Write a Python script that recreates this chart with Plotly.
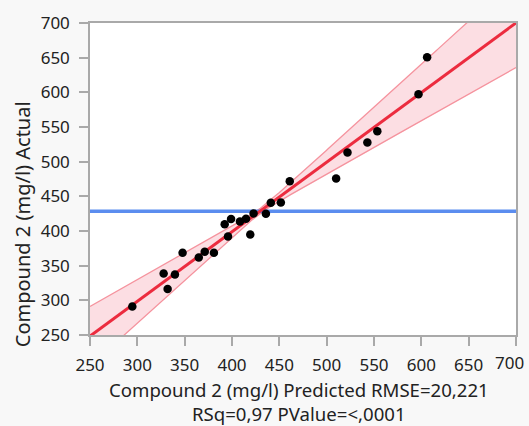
import numpy as np
import plotly.graph_objects as go

# Predicted vs. actual values of Compound 2 (mg/l)
predicted = [294.7, 327.8, 332.0, 339.7, 347.8, 364.9, 371.2, 380.9, 392.3, 395.8,
             399.0, 408.4, 414.8, 419.3, 422.8, 435.8, 441.0, 451.6, 461.0, 510.0,
             522.0, 543.0, 553.5, 597.0, 606.1]
actual = [291.1, 338.7, 316.3, 337.3, 368.7, 361.7, 370.1, 368.7, 409.8, 392.0,
          417.2, 413.6, 417.8, 394.8, 425.2, 424.8, 440.7, 441.1, 471.9, 475.7,
          513.1, 527.6, 544.0, 597.3, 650.5]

x_range = [250, 700]
y_range = [250, 700]
tick_values = list(range(250, 701, 50))
tick_labels = [str(v) for v in tick_values]

x_title = "Compound 2 (mg/l) Predicted RMSE=20,221"
x_subtitle = "RSq=0,97 PValue=<,0001"
y_title = "Compound 2 (mg/l) Actual"

# Confidence curve shape around the fitted line
band_min = 3.8
band_slope = 0.238

pred = np.array(predicted)
act = np.array(actual)
slope, intercept = np.polyfit(pred, act, 1)
mean_actual = act.mean()
xbar = pred.mean()

grid = np.linspace(x_range[0], x_range[1], 241)
fit = intercept + slope * grid
half = np.sqrt(band_min ** 2 + (band_slope * (grid - xbar)) ** 2)
upper = fit + half
lower = fit - half

FONT = "Noto Sans, Open Sans, sans-serif"
TEXT = "#222222"
AXIS = "#A9A9A9"
TICK_SIZE = 17
TITLE_SIZE = 18.6

fig = go.Figure()

# shaded confidence region
fig.add_trace(go.Scatter(
    x=np.concatenate([grid, grid[::-1]]),
    y=np.concatenate([upper, lower[::-1]]),
    fill="toself", fillcolor="rgba(250,205,212,0.65)",
    line=dict(width=0), mode="lines", hoverinfo="skip", showlegend=False))
for curve in (upper, lower):
    fig.add_trace(go.Scatter(x=grid, y=curve, mode="lines",
                             line=dict(color="#F5939E", width=1.3),
                             hoverinfo="skip", showlegend=False))

# mean of actual
fig.add_trace(go.Scatter(x=x_range, y=[mean_actual, mean_actual], mode="lines",
                         line=dict(color="#5B8DEF", width=3.5), showlegend=False))

# line of fit
fig.add_trace(go.Scatter(x=grid, y=fit, mode="lines",
                         line=dict(color="#EC2C3F", width=3), showlegend=False))

# observations
fig.add_trace(go.Scatter(x=predicted, y=actual, mode="markers",
                         marker=dict(color="black", size=8.5),
                         showlegend=False))

axis_style = dict(
    showline=True, linecolor=AXIS, linewidth=1.5, mirror=True,
    ticks="outside", ticklen=9, tickcolor=AXIS, tickwidth=1.5,
    showgrid=False, zeroline=False, tickvals=tick_values,
    tickfont=dict(family=FONT, size=TICK_SIZE, color=TEXT),
)

# the last x tick label is nudged inward so it stays inside the page
x_tick_text = tick_labels[:-1] + [""]

fig.update_layout(
    width=529, height=426,
    margin=dict(l=90, r=11, t=14, b=91),
    paper_bgcolor="#F8F8F8", plot_bgcolor="white",
    font=dict(family=FONT, size=TICK_SIZE, color=TEXT),
    xaxis=dict(range=x_range, ticklabelstandoff=5, ticktext=x_tick_text, **axis_style),
    yaxis=dict(range=y_range, ticklabelstandoff=6, ticktext=tick_labels, **axis_style),
    annotations=[
        dict(text=tick_labels[-1], xref="paper", yref="paper", x=0.985, y=-0.087,
             xanchor="center", yanchor="middle", showarrow=False,
             font=dict(family=FONT, size=TICK_SIZE, color=TEXT)),
        dict(text=x_title, xref="paper", yref="paper", x=0.4907, y=-0.1745,
             xanchor="center", yanchor="middle", showarrow=False,
             font=dict(family=FONT, size=TITLE_SIZE, color=TEXT)),
        dict(text=x_subtitle, xref="paper", yref="paper", x=0.4907, y=-0.252,
             xanchor="center", yanchor="middle", showarrow=False,
             font=dict(family=FONT, size=TITLE_SIZE, color=TEXT)),
        dict(text=y_title, xref="paper", yref="paper", x=-0.1596, y=0.355,
             xanchor="center", yanchor="middle", textangle=-90, showarrow=False,
             font=dict(family=FONT, size=20, color=TEXT)),
    ],
)

fig.write_html("out.html")
